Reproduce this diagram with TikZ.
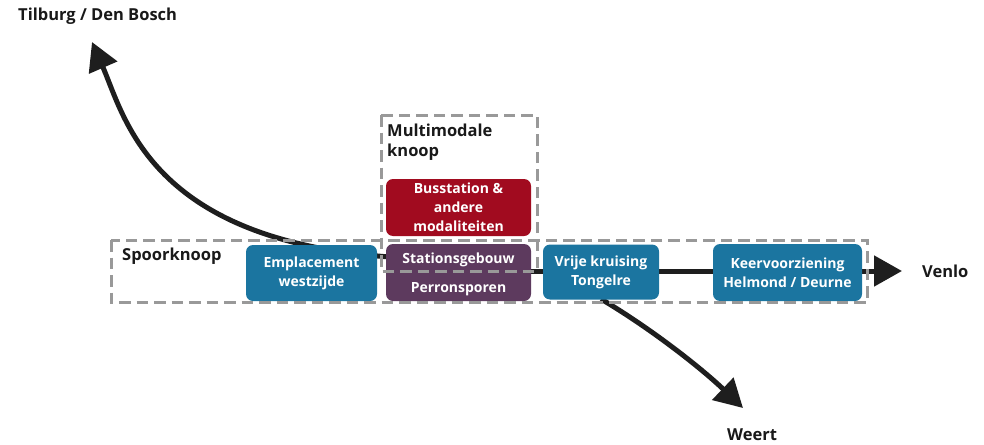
\documentclass[tikz,border=0pt]{standalone}
\usepackage{fontspec}
\setmainfont{Open Sans}
\usetikzlibrary{arrows.meta}
\definecolor{knoopblue}{HTML}{1B75A0}
\definecolor{busred}{HTML}{A10B1F}
\definecolor{stationpurple}{HTML}{5D3A5E}
\definecolor{framegray}{HTML}{999999}
\definecolor{trackblack}{HTML}{1E1E1E}
\tikzset{
  block/.style={rounded corners=7pt, text=white, inner sep=0pt, align=center,
    font=\bfseries\fontsize{14}{19}\selectfont},
  blocktext/.style={text=white, inner sep=0pt, font=\bfseries\fontsize{14}{19}\selectfont},
  track/.style={line width=5pt, draw=trackblack},
  trackarrow/.style={track, -{Triangle[length=28pt,width=30pt]}},
  frame/.style={draw=framegray, line width=3pt, dash pattern=on 11.5pt off 6pt},
  placelabel/.style={font=\bfseries\fontsize{16.5}{20}\selectfont, text=black!90,
    inner sep=0pt, align=left},
}
\begin{document}
\begin{tikzpicture}[x=1pt,y=-1pt]
\useasboundingbox (0,0) rectangle (984,444);

% end points of the routes
\coordinate (tilburgtip) at (92,42);
\coordinate (venlotip) at (902,271);
\coordinate (weerttip) at (743,408);
\coordinate (tilburgstart) at (390,257);
\coordinate (weertstart) at (601,299);

% tracks, drawn first so the blocks cover them
\draw[trackarrow] (tilburgstart) .. controls (150,240) and (125,118) .. (tilburgtip);
\draw[trackarrow] (weertstart) .. controls (650,328) and (700,367) .. (weerttip);
\draw[trackarrow] (458.5,271) -- (venlotip);

% blocks
\node[block, fill=knoopblue, minimum width=131pt, minimum height=56pt] (emp) at (311.5,273)
  {Emplacement\\westzijde};
\node[block, fill=busred, minimum width=145pt, minimum height=57pt] (bus) at (458.5,207.5)
  {Busstation \&\\andere\\modaliteiten};
\node[block, fill=stationpurple, minimum width=145pt, minimum height=57pt] (station) at (458.5,272.5) {};
\node[blocktext, anchor=base] (gebouw) at (458.5,263) {Stationsgebouw};
\node[blocktext, anchor=base] (perron) at (458.5,292) {Perronsporen};
\node[block, fill=knoopblue, minimum width=116pt, minimum height=55pt] (vrije) at (601,272)
  {Vrije kruising\\Tongelre};
\node[block, fill=knoopblue, minimum width=149pt, minimum height=57pt] (keer) at (787.5,272.5)
  {Keervoorziening\\Helmond / Deurne};

% dashed frames around the two nodes
\draw[frame] (381,115) rectangle (537,271);
\draw[frame] (111,240) rectangle (867,302);

% labels
\node[placelabel, anchor=base west] (spoor) at (122,260) {Spoorknoop};
\node[placelabel, anchor=north west] (multi) at (387,124) {Multimodale\\knoop};
\node[placelabel, anchor=base west] (tilburg) at (18,21) {Tilburg / Den Bosch};
\node[placelabel, anchor=base west] (venlo) at (922,277) {Venlo};
\node[placelabel, anchor=base west] (weert) at (727,440) {Weert};
\end{tikzpicture}
\end{document}
